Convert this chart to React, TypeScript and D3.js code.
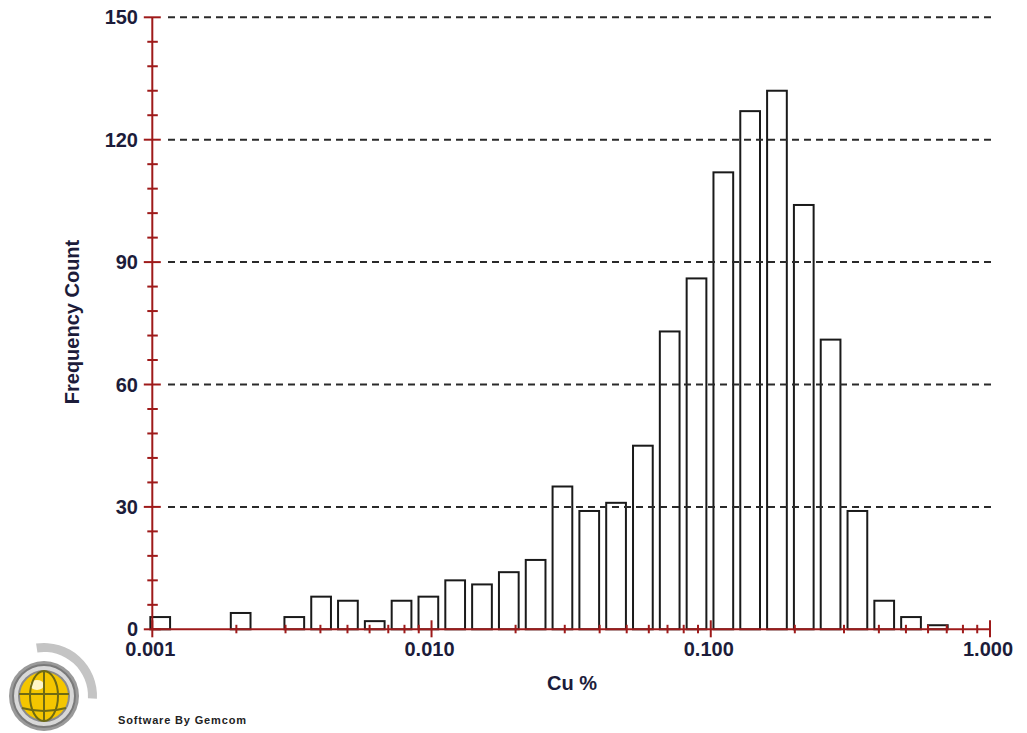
import React from 'react';
import { scaleLog, scaleLinear, range, arc, format } from 'd3';

// histogram of Cu %, 30 log-spaced bins
const binStart = 0.000976; // lower edge of first bin (Cu %)
const binLogWidth = 0.09603; // bin width in log10 units
const counts = [3, 0, 0, 4, 0, 3, 8, 7, 2, 7, 8, 12, 11, 14, 17, 35, 29, 31, 45, 73, 86, 112, 127, 132, 104, 71, 29, 7, 3, 1];

const xMajor = [0.001, 0.01, 0.1, 1];
const xMinorMult = [2, 3, 4, 5, 6, 7, 8, 9];
const yMajor = [0, 30, 60, 90, 120, 150];
const yMinorStep = 6;

const W = 1027;
const H = 733;
const axisColor = '#9e1a1a';
const textColor = '#1c1c3a';
const font = '"Liberation Sans", Arial, sans-serif';

const Logo = () => {
  const cx = 44, cy = 696;
  const swoosh = arc()({ innerRadius: 44, outerRadius: 53, startAngle: -0.15, endAngle: Math.PI / 2 + 0.05 });
  return (
    <g>
      <path d={swoosh || ''} transform={`translate(${cx},${cy})`} fill="#c4c4c4" />
      <circle cx={cx} cy={cy} r={35} fill="#9a9a9a" />
      <circle cx={cx} cy={cy} r={31} fill="#d8d8d8" stroke="#7a7a7a" strokeWidth={2} />
      <circle cx={cx} cy={cy} r={25} fill="#f4c600" stroke="#8a8a8a" strokeWidth={2} />
      <ellipse cx={cx - 7} cy={cy - 11} rx={7} ry={5} fill="#fff6c8" />
      <g stroke="#6e6a14" strokeWidth={2} fill="none">
        <line x1={cx} y1={cy - 25} x2={cx} y2={cy + 25} />
        <line x1={cx - 25} y1={cy - 2} x2={cx + 25} y2={cy - 2} />
        <path d={`M${cx - 22},${cy + 12} Q${cx},${cy + 18} ${cx + 22},${cy + 12}`} />
        <ellipse cx={cx} cy={cy} rx={14} ry={25} />
      </g>
      <text x={118} y={724} fontFamily={font} fontWeight="bold" fontSize={11} fill="#222" textLength={128}>
        Software By Gemcom
      </text>
    </g>
  );
};

const App = () => {
  const x = scaleLog().domain([0.001, 1]).range([152.3, 990]);
  const y = scaleLinear().domain([0, 150]).range([629.3, 17.3]);
  const fmt = format('.3f');

  const bins = counts.map((c, i) => {
    const lo = binStart * Math.pow(10, i * binLogWidth);
    const hi = binStart * Math.pow(10, (i + 1) * binLogWidth);
    return { lo, hi, c };
  });

  const xMinor = xMajor.slice(0, -1).flatMap(d => xMinorMult.map(m => d * m));
  const yMinor = range(0, 151, yMinorStep).filter(v => v % 30 !== 0);

  return (
    <svg width={W} height={H} style={{ position: 'absolute', left: 0, top: 0, background: '#fff' }}>
      {/* bars */}
      <g>
        {bins.filter(b => b.c > 0).map((b, i) => {
          const x0 = x(b.lo);
          const bw = (x(b.hi) - x0) * 0.81;
          return (
            <rect key={i} x={x0 + 1} y={y(b.c)} width={bw - 2} height={y(0) - y(b.c)}
              fill="#fff" stroke="#1a1a1a" strokeWidth={2} />
          );
        })}
      </g>

      {/* dashed grid */}
      <g stroke="#2a2a2a" strokeWidth={2} strokeDasharray="7,5">
        {yMajor.filter(v => v > 0).map(v => (
          <line key={v} x1={168} x2={996} y1={y(v)} y2={y(v)} />
        ))}
      </g>

      {/* y axis */}
      <g stroke={axisColor} strokeWidth={2}>
        <line x1={x(0.001)} x2={x(0.001)} y1={y(0)} y2={y(150)} />
        {yMajor.map(v => (
          <line key={v} x1={x(0.001) - 8.5} x2={x(0.001) + 8.5} y1={y(v)} y2={y(v)} />
        ))}
        {yMinor.map(v => (
          <line key={v} x1={x(0.001) - 5} x2={x(0.001) + 5.5} y1={y(v)} y2={y(v)} />
        ))}
      </g>
      <g fontFamily={font} fontWeight="bold" fontSize={20} fill={textColor} textAnchor="end">
        {yMajor.map(v => (
          <text key={v} x={138} y={y(v)} dy="0.35em">{v}</text>
        ))}
      </g>

      {/* x axis */}
      <g stroke={axisColor} strokeWidth={2}>
        <line x1={x(0.001)} x2={x(1)} y1={y(0)} y2={y(0)} />
        {xMajor.map(v => (
          <line key={v} x1={x(v)} x2={x(v)} y1={y(0) - 9} y2={y(0) + 8} />
        ))}
        {xMinor.map(v => (
          <line key={v} x1={x(v)} x2={x(v)} y1={y(0) - 4.5} y2={y(0) + 4} />
        ))}
      </g>
      <g fontFamily={font} fontWeight="bold" fontSize={20} fill={textColor} textAnchor="middle">
        {xMajor.map(v => (
          <text key={v} x={x(v) - 2} y={649} dy="0.35em">{fmt(v)}</text>
        ))}
      </g>

      {/* axis titles */}
      <text x={572} y={683} dy="0.35em" textAnchor="middle" fontFamily={font} fontWeight="bold" fontSize={20} fill={textColor}>
        Cu %
      </text>
      <text transform="translate(72,322) rotate(-90)" dy="0.35em" textAnchor="middle" fontFamily={font} fontWeight="bold" fontSize={20} fill={textColor}>
        Frequency Count
      </text>

      <Logo />
    </svg>
  );
};

export default App;
